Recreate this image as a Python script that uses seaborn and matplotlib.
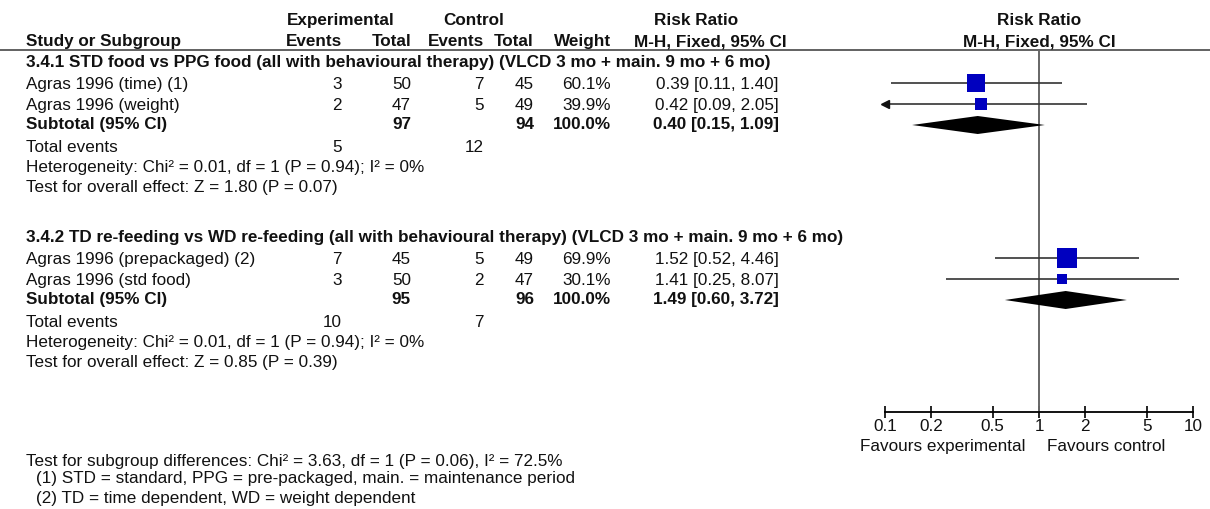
import numpy as np
import matplotlib.pyplot as plt
import seaborn as sns

# Forest plot data
groups = ['3.4.1 STD food vs PPG food (all with behavioural therapy) (VLCD 3 mo + main. 9 mo + 6 mo)',
          '3.4.2 TD re-feeding vs WD re-feeding (all with behavioural therapy) (VLCD 3 mo + main. 9 mo + 6 mo)']
studies = [['Agras 1996 (time) (1)', 'Agras 1996 (weight)'],
           ['Agras 1996 (prepackaged) (2)', 'Agras 1996 (std food)']]
exp_events = [[3, 2], [7, 3]]
exp_total = [[50, 47], [45, 50]]
ctrl_events = [[7, 5], [5, 2]]
ctrl_total = [[45, 49], [49, 47]]
weights = [[60.1, 39.9], [69.9, 30.1]]
rr = [[0.39, 0.42], [1.52, 1.41]]
rr_lo = [[0.11, 0.09], [0.52, 0.25]]
rr_hi = [[1.40, 2.05], [4.46, 8.07]]

sub_exp_total = [97, 95]
sub_ctrl_total = [94, 96]
sub_rr = [0.40, 1.49]
sub_lo = [0.15, 0.60]
sub_hi = [1.09, 3.72]
tot_exp_events = [5, 10]
tot_ctrl_events = [12, 7]
heterogeneity = ['Heterogeneity: Chi² = 0.01, df = 1 (P = 0.94); I² = 0%',
                 'Heterogeneity: Chi² = 0.01, df = 1 (P = 0.94); I² = 0%']
overall = ['Test for overall effect: Z = 1.80 (P = 0.07)',
           'Test for overall effect: Z = 0.85 (P = 0.39)']

ticks = [0.1, 0.2, 0.5, 1, 2, 5, 10]
tick_labels = ['0.1', '0.2', '0.5', '1', '2', '5', '10']
footer = ['Test for subgroup differences: Chi² = 3.63, df = 1 (P = 0.06), I² = 72.5%',
          '(1) STD = standard, PPG = pre-packaged, main. = maintenance period',
          '(2) TD = time dependent, WD = weight dependent']

sns.set_theme(style='white')
plt.rcParams['font.family'] = ['Liberation Sans', 'DejaVu Sans']
FS = 12.3
W, H = 1210, 509

fig = plt.figure(figsize=(W / 100, H / 100), dpi=100)
tab = fig.add_axes([0, 0, 1, 1])
tab.set_xlim(0, W)
tab.set_ylim(H, 0)
tab.axis('off')

# column anchors (pixels)
X_LAB, X_EE, X_ET, X_CE, X_CT, X_W, X_CI = 26, 342, 411, 484, 534, 611, 779
X0, X1, AXIS_Y = 885, 1193, 412


def txt(x, y, s, ha='left', bold=False, **kw):
    # y is the vertical centre of capitals
    tab.text(x, y + 6, s, ha=ha, va='baseline', fontsize=FS,
             fontweight='bold' if bold else 'normal', color='#111111', **kw)


# headers
txt(341, 19, 'Experimental', ha='center', bold=True)
txt(474, 19, 'Control', ha='center', bold=True)
txt(696, 19, 'Risk Ratio', ha='center', bold=True)
txt((X0 + X1) / 2, 19, 'Risk Ratio', ha='center', bold=True)
txt(X_LAB, 40, 'Study or Subgroup', bold=True)
txt(X_EE, 40, 'Events', ha='right', bold=True)
txt(X_ET, 40, 'Total', ha='right', bold=True)
txt(X_CE, 40, 'Events', ha='right', bold=True)
txt(X_CT, 40, 'Total', ha='right', bold=True)
txt(X_W, 40, 'Weight', ha='right', bold=True)
txt(710, 40, 'M-H, Fixed, 95% CI', ha='center', bold=True)
txt((X0 + X1) / 2, 40, 'M-H, Fixed, 95% CI', ha='center', bold=True)
tab.plot([0, W], [50, 50], color='#555555', lw=1.3)

# forest axes, y in the same pixel units
ax = fig.add_axes([X0 / W, (H - AXIS_Y) / H, (X1 - X0) / W, AXIS_Y / H])
ax.set_xscale('log')
ax.set_xlim(ticks[0], ticks[-1])
ax.set_ylim(AXIS_Y, 0)
ax.patch.set_alpha(0)
ax.axvline(1, ymin=0, ymax=(AXIS_Y - 50) / AXIS_Y, color='#666666', lw=1.4)

group_top = [61, 236]
for g in range(len(groups)):
    y0 = group_top[g]
    txt(X_LAB, y0, groups[g], bold=True)
    for i in range(len(studies[g])):
        y = y0 + 22 + 21 * i
        txt(X_LAB, y, studies[g][i])
        txt(X_EE, y, str(exp_events[g][i]), ha='right')
        txt(X_ET, y, str(exp_total[g][i]), ha='right')
        txt(X_CE, y, str(ctrl_events[g][i]), ha='right')
        txt(X_CT, y, str(ctrl_total[g][i]), ha='right')
        txt(X_W, y, f'{weights[g][i]:.1f}%', ha='right')
        txt(X_CI, y, f'{rr[g][i]:.2f} [{rr_lo[g][i]:.2f}, {rr_hi[g][i]:.2f}]', ha='right')
        lo = max(rr_lo[g][i], ticks[0])
        hi = min(rr_hi[g][i], ticks[-1])
        ax.hlines(y, lo, hi, color='#333333', lw=1.2)
        if rr_lo[g][i] < ticks[0]:
            ax.plot([ticks[0]], [y], marker='<', ms=6, color='#111111', clip_on=False)
        side = 2.4 + 0.25 * weights[g][i]
        sns.scatterplot(x=[rr[g][i]], y=[y], marker='s', s=(side * 0.72) ** 2,
                        color='#0000bf', edgecolor='none', ax=ax, zorder=3)
    ys = y0 + 62
    txt(X_LAB, ys, 'Subtotal (95% CI)', bold=True)
    txt(X_ET, ys, str(sub_exp_total[g]), ha='right', bold=True)
    txt(X_CT, ys, str(sub_ctrl_total[g]), ha='right', bold=True)
    txt(X_W, ys, '100.0%', ha='right', bold=True)
    txt(X_CI, ys, f'{sub_rr[g]:.2f} [{sub_lo[g]:.2f}, {sub_hi[g]:.2f}]', ha='right', bold=True)
    yd = y0 + 64
    ax.fill([sub_lo[g], sub_rr[g], sub_hi[g], sub_rr[g]], [yd, yd - 9, yd, yd + 9],
            color='black', lw=0, zorder=3)
    txt(X_LAB, y0 + 85, 'Total events')
    txt(X_EE, y0 + 85, str(tot_exp_events[g]), ha='right')
    txt(X_CE, y0 + 85, str(tot_ctrl_events[g]), ha='right')
    txt(X_LAB, y0 + 105, heterogeneity[g])
    txt(X_LAB, y0 + 125, overall[g])

ax.set_xticks(ticks)
ax.set_xticklabels(tick_labels, fontsize=FS)
ax.minorticks_off()
ax.set_yticks([])
ax.set_xlabel('')
ax.set_ylabel('')
sns.despine(ax=ax, left=True)
ax.spines['bottom'].set_color('black')
ax.spines['bottom'].set_linewidth(1.3)
ax.tick_params(axis='x', direction='inout', length=8, width=1.2, color='black',
               pad=1, labelcolor='#111111', bottom=True)

txt(1025, 445, 'Favours experimental', ha='right')
txt(1047, 445, 'Favours control')

txt(X_LAB, 460, footer[0])
txt(X_LAB + 10, 477, footer[1])
txt(X_LAB + 10, 497, footer[2])

fig.savefig('out.png', dpi=100)
